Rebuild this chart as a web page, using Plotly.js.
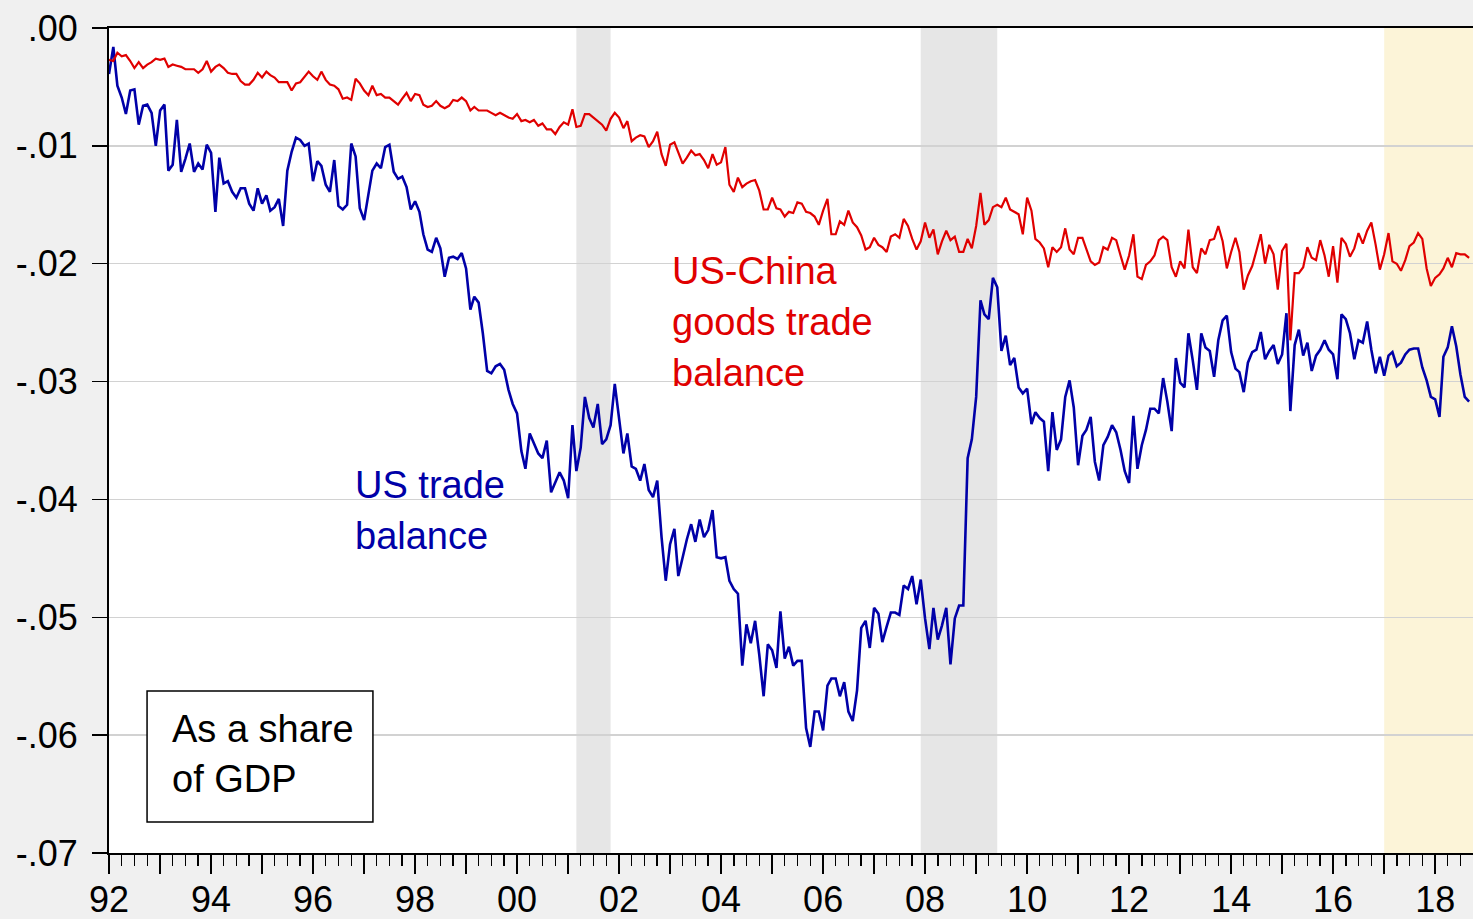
<!DOCTYPE html>
<html>
<head>
<meta charset="utf-8">
<script src="https://cdn.plot.ly/plotly-3.0.1.min.js"></script>
<style>
html,body{margin:0;padding:0;background:#f0f0f0;}
#chart{width:1473px;height:919px;}
</style>
</head>
<body>
<div id="chart"></div>
<script>
// Monthly series, January 1992 onward (one row per year)
const startYear = 1992;

const usTradeBalance = [
-0.0039,-0.0016,-0.0049,-0.0059,-0.0073,-0.0053,-0.0052,-0.0082,-0.0066,-0.0065,-0.0072,-0.0100,
-0.0070,-0.0065,-0.0121,-0.0116,-0.0078,-0.0122,-0.0111,-0.0098,-0.0122,-0.0115,-0.0120,-0.0099,
-0.0106,-0.0156,-0.0110,-0.0132,-0.0130,-0.0139,-0.0144,-0.0136,-0.0136,-0.0149,-0.0155,-0.0136,
-0.0149,-0.0142,-0.0155,-0.0152,-0.0145,-0.0168,-0.0121,-0.0105,-0.0093,-0.0095,-0.0100,-0.0098,
-0.0130,-0.0113,-0.0117,-0.0133,-0.0139,-0.0112,-0.0151,-0.0154,-0.0150,-0.0098,-0.0109,-0.0153,
-0.0163,-0.0141,-0.0121,-0.0115,-0.0119,-0.0101,-0.0099,-0.0122,-0.0128,-0.0126,-0.0135,-0.0154,
-0.0147,-0.0156,-0.0175,-0.0188,-0.0190,-0.0178,-0.0187,-0.0211,-0.0195,-0.0194,-0.0196,-0.0191,
-0.0204,-0.0239,-0.0228,-0.0233,-0.0259,-0.0291,-0.0293,-0.0287,-0.0285,-0.0290,-0.0307,-0.0319,
-0.0327,-0.0359,-0.0374,-0.0344,-0.0353,-0.0361,-0.0365,-0.0350,-0.0394,-0.0386,-0.0377,-0.0384,
-0.0399,-0.0337,-0.0376,-0.0356,-0.0313,-0.0331,-0.0339,-0.0319,-0.0353,-0.0349,-0.0337,-0.0302,
-0.0330,-0.0361,-0.0344,-0.0372,-0.0374,-0.0384,-0.0370,-0.0392,-0.0398,-0.0384,-0.0432,-0.0469,
-0.0438,-0.0425,-0.0465,-0.0449,-0.0434,-0.0421,-0.0436,-0.0417,-0.0432,-0.0426,-0.0409,-0.0449,
-0.0450,-0.0449,-0.0469,-0.0476,-0.0480,-0.0541,-0.0506,-0.0522,-0.0503,-0.0532,-0.0567,-0.0523,
-0.0528,-0.0543,-0.0495,-0.0535,-0.0525,-0.0541,-0.0537,-0.0537,-0.0594,-0.0610,-0.0580,-0.0580,
-0.0596,-0.0558,-0.0552,-0.0552,-0.0567,-0.0555,-0.0580,-0.0588,-0.0562,-0.0509,-0.0503,-0.0526,
-0.0492,-0.0497,-0.0521,-0.0508,-0.0496,-0.0496,-0.0498,-0.0473,-0.0476,-0.0465,-0.0489,-0.0468,
-0.0501,-0.0527,-0.0492,-0.0519,-0.0507,-0.0492,-0.0540,-0.0501,-0.0490,-0.0490,-0.0365,-0.0349,
-0.0313,-0.0231,-0.0243,-0.0247,-0.0212,-0.0220,-0.0274,-0.0261,-0.0286,-0.0280,-0.0305,-0.0310,
-0.0306,-0.0336,-0.0326,-0.0331,-0.0334,-0.0376,-0.0326,-0.0358,-0.0349,-0.0313,-0.0299,-0.0322,
-0.0371,-0.0346,-0.0341,-0.0330,-0.0368,-0.0384,-0.0354,-0.0347,-0.0337,-0.0343,-0.0358,-0.0376,
-0.0386,-0.0329,-0.0374,-0.0354,-0.0341,-0.0323,-0.0323,-0.0327,-0.0297,-0.0317,-0.0342,-0.0280,
-0.0301,-0.0305,-0.0259,-0.0282,-0.0307,-0.0259,-0.0271,-0.0274,-0.0296,-0.0265,-0.0248,-0.0244,
-0.0275,-0.0289,-0.0292,-0.0309,-0.0284,-0.0275,-0.0273,-0.0258,-0.0281,-0.0274,-0.0269,-0.0285,
-0.0277,-0.0242,-0.0325,-0.0269,-0.0256,-0.0278,-0.0267,-0.0291,-0.0278,-0.0273,-0.0265,-0.0273,
-0.0277,-0.0298,-0.0243,-0.0247,-0.0259,-0.0281,-0.0265,-0.0267,-0.0249,-0.0273,-0.0293,-0.0279,
-0.0295,-0.0278,-0.0275,-0.0287,-0.0284,-0.0277,-0.0273,-0.0272,-0.0272,-0.0288,-0.0299,-0.0313,
-0.0315,-0.0330,-0.0279,-0.0271,-0.0253,-0.0270,-0.0294,-0.0313,-0.0317
];

const usChinaGoodsBalance = [
-0.0027,-0.0028,-0.0021,-0.0024,-0.0023,-0.0028,-0.0034,-0.0029,-0.0034,-0.0031,-0.0029,-0.0026,
-0.0027,-0.0026,-0.0033,-0.0031,-0.0032,-0.0033,-0.0035,-0.0035,-0.0035,-0.0038,-0.0035,-0.0028,
-0.0037,-0.0033,-0.0031,-0.0034,-0.0038,-0.0039,-0.0039,-0.0045,-0.0048,-0.0048,-0.0044,-0.0038,
-0.0042,-0.0037,-0.0040,-0.0042,-0.0046,-0.0046,-0.0046,-0.0053,-0.0047,-0.0046,-0.0041,-0.0037,
-0.0041,-0.0044,-0.0037,-0.0044,-0.0048,-0.0049,-0.0052,-0.0060,-0.0059,-0.0061,-0.0043,-0.0047,
-0.0053,-0.0057,-0.0049,-0.0057,-0.0056,-0.0059,-0.0059,-0.0062,-0.0065,-0.0060,-0.0055,-0.0062,
-0.0056,-0.0057,-0.0065,-0.0067,-0.0066,-0.0062,-0.0066,-0.0068,-0.0066,-0.0061,-0.0062,-0.0059,
-0.0062,-0.0070,-0.0067,-0.0070,-0.0070,-0.0070,-0.0072,-0.0074,-0.0072,-0.0074,-0.0076,-0.0077,
-0.0073,-0.0079,-0.0078,-0.0080,-0.0078,-0.0083,-0.0081,-0.0086,-0.0086,-0.0090,-0.0084,-0.0080,
-0.0082,-0.0069,-0.0084,-0.0083,-0.0073,-0.0073,-0.0076,-0.0079,-0.0082,-0.0087,-0.0077,-0.0072,
-0.0076,-0.0085,-0.0079,-0.0096,-0.0093,-0.0091,-0.0092,-0.0101,-0.0096,-0.0088,-0.0107,-0.0117,
-0.0099,-0.0097,-0.0106,-0.0115,-0.0110,-0.0104,-0.0108,-0.0107,-0.0112,-0.0119,-0.0107,-0.0116,
-0.0114,-0.0101,-0.0133,-0.0139,-0.0127,-0.0135,-0.0132,-0.0130,-0.0129,-0.0138,-0.0154,-0.0154,
-0.0144,-0.0153,-0.0154,-0.0160,-0.0156,-0.0157,-0.0148,-0.0149,-0.0156,-0.0157,-0.0160,-0.0167,
-0.0155,-0.0145,-0.0175,-0.0175,-0.0164,-0.0167,-0.0155,-0.0165,-0.0169,-0.0176,-0.0188,-0.0186,
-0.0178,-0.0184,-0.0186,-0.0190,-0.0177,-0.0175,-0.0178,-0.0162,-0.0168,-0.0179,-0.0188,-0.0181,
-0.0165,-0.0178,-0.0171,-0.0192,-0.0181,-0.0172,-0.0180,-0.0177,-0.0190,-0.0190,-0.0179,-0.0187,
-0.0168,-0.0140,-0.0167,-0.0163,-0.0152,-0.0150,-0.0152,-0.0144,-0.0154,-0.0156,-0.0158,-0.0175,
-0.0144,-0.0155,-0.0179,-0.0182,-0.0187,-0.0203,-0.0186,-0.0190,-0.0186,-0.0170,-0.0188,-0.0192,
-0.0178,-0.0178,-0.0188,-0.0198,-0.0201,-0.0199,-0.0186,-0.0188,-0.0178,-0.0180,-0.0193,-0.0205,
-0.0193,-0.0175,-0.0211,-0.0213,-0.0201,-0.0198,-0.0193,-0.0180,-0.0177,-0.0180,-0.0203,-0.0211,
-0.0198,-0.0204,-0.0171,-0.0203,-0.0208,-0.0187,-0.0192,-0.0180,-0.0179,-0.0168,-0.0181,-0.0204,
-0.0190,-0.0178,-0.0190,-0.0222,-0.0210,-0.0202,-0.0189,-0.0175,-0.0200,-0.0184,-0.0192,-0.0222,
-0.0189,-0.0183,-0.0265,-0.0208,-0.0208,-0.0203,-0.0186,-0.0195,-0.0197,-0.0180,-0.0193,-0.0211,
-0.0185,-0.0216,-0.0178,-0.0183,-0.0194,-0.0187,-0.0174,-0.0183,-0.0172,-0.0165,-0.0184,-0.0205,
-0.0192,-0.0174,-0.0198,-0.0200,-0.0206,-0.0197,-0.0185,-0.0182,-0.0174,-0.0179,-0.0204,-0.0219,
-0.0212,-0.0209,-0.0204,-0.0195,-0.0203,-0.0191,-0.0192,-0.0192,-0.0195
];

const yTickVals = [0, -0.01, -0.02, -0.03, -0.04, -0.05, -0.06, -0.07];
const yTickText = ['.00', '-.01', '-.02', '-.03', '-.04', '-.05', '-.06', '-.07'];
const xTickYears = [1992,1993,1994,1995,1996,1997,1998,1999,2000,2001,2002,2003,2004,2005,2006,2007,2008,2009,2010,2011,2012,2013,2014,2015,2016,2017,2018];
const xTickText = ['92','','94','','96','','98','','00','','02','','04','','06','','08','','10','','12','','14','','16','','18'];
const recessions = [['2001-03-01','2001-11-01'], ['2007-12-01','2009-06-01']];
const highlight = ['2017-01-01','2018-12-31'];

const pad = n => (n < 10 ? '0' : '') + n;
const monthDate = i => (startYear + Math.floor(i / 12)) + '-' + pad(i % 12 + 1) + '-01';
const datesTrade = usTradeBalance.map((_, i) => monthDate(i));
const datesChina = usChinaGoodsBalance.map((_, i) => monthDate(i));

const FONT = 'Liberation Sans, Arial, Helvetica, sans-serif';
const RED = '#e00000';
const BLUE = '#0000a8';

const traces = [
  {x: datesTrade, y: usTradeBalance, type: 'scatter', mode: 'lines',
   line: {color: BLUE, width: 2.6}, name: 'US trade balance', hoverinfo: 'skip'},
  {x: datesChina, y: usChinaGoodsBalance, type: 'scatter', mode: 'lines',
   line: {color: RED, width: 2.2}, name: 'US-China goods trade balance', hoverinfo: 'skip'}
];

const shapes = recessions.map(r => ({
  type: 'rect', xref: 'x', yref: 'paper', x0: r[0], x1: r[1], y0: 0, y1: 1,
  fillcolor: '#e6e6e6', line: {width: 0}, layer: 'below'
}));
shapes.push({type: 'rect', xref: 'x', yref: 'paper', x0: highlight[0], x1: highlight[1], y0: 0, y1: 1,
  fillcolor: '#fcf4d8', line: {width: 0}, layer: 'below'});
shapes.push({type: 'rect', xref: 'paper', yref: 'paper', x0: 0.0279, x1: 0.1935, y0: 0.0376, y1: 0.1964,
  fillcolor: '#ffffff', line: {color: '#000000', width: 1.5}, layer: 'above'});

function label(text, x, y, color) {
  return {text: text, xref: 'paper', yref: 'paper', x: x, y: y, xanchor: 'left', yanchor: 'middle',
    showarrow: false, font: {family: FONT, size: 38, color: color}, borderpad: 0};
}

const annotations = [
  label('US-China', 0.4120, 0.7055, RED),
  label('goods trade', 0.4120, 0.6436, RED),
  label('balance', 0.4120, 0.5818, RED),
  label('US trade', 0.1796, 0.4461, BLUE),
  label('balance', 0.1796, 0.3842, BLUE),
  label('As a share', 0.0455, 0.1503, '#000000'),
  label('of GDP', 0.0455, 0.0897, '#000000')
];

const layout = {
  width: 1473, height: 919,
  margin: {l: 109, r: 0, t: 28, b: 66, pad: 0},
  paper_bgcolor: '#f0f0f0',
  plot_bgcolor: '#ffffff',
  showlegend: false,
  font: {family: FONT, size: 36, color: '#000000'},
  xaxis: {
    type: 'date',
    range: ['1992-01-01', '2018-09-29'],
    autorange: false,
    tickmode: 'array',
    tickvals: xTickYears.map(y => y + '-01-01'),
    ticktext: xTickText,
    ticks: 'outside', ticklen: 19, tickwidth: 1.5, tickcolor: '#000000',
    ticklabelstandoff: -5,
    tickfont: {family: FONT, size: 36, color: '#000000'},
    minor: {ticks: 'outside', dtick: 'M3', tick0: '1992-01-01', ticklen: 11, tickwidth: 1.5,
            tickcolor: '#000000', showgrid: false},
    showline: true, linecolor: '#000000', linewidth: 2, mirror: true,
    showgrid: false, zeroline: false, fixedrange: true
  },
  yaxis: {
    range: [-0.07, 0], autorange: false,
    tickmode: 'array', tickvals: yTickVals, ticktext: yTickText,
    ticks: 'outside', ticklen: 15, tickwidth: 1.5, tickcolor: '#000000',
    ticklabelstandoff: 7,
    tickfont: {family: FONT, size: 36, color: '#000000'},
    showline: true, linecolor: '#000000', linewidth: 2,
    showgrid: true, gridcolor: '#d2d2d2', gridwidth: 1.5,
    zeroline: false, fixedrange: true
  },
  shapes: shapes,
  annotations: annotations
};

Plotly.newPlot('chart', traces, layout, {displayModeBar: false, staticPlot: true});
</script>
</body>
</html>
